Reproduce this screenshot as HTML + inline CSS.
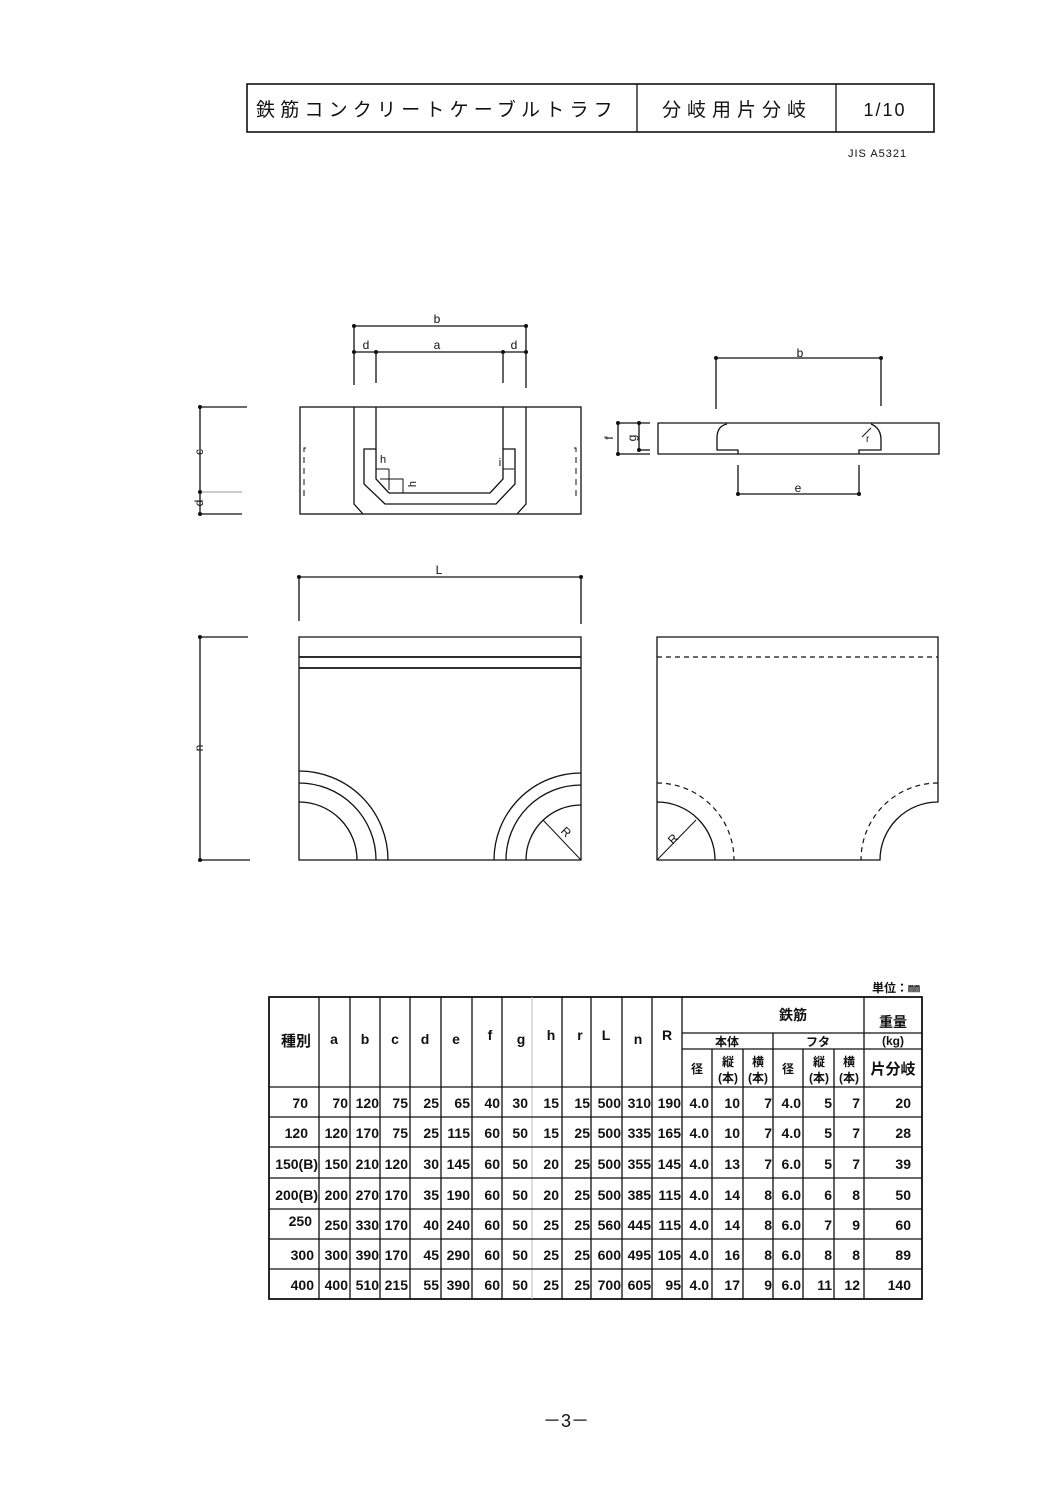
<!DOCTYPE html>
<html><head><meta charset="utf-8"><style>
html,body{margin:0;padding:0;background:#fff}
svg{display:block}
text{font-family:"Liberation Sans","Noto Sans CJK JP",sans-serif;fill:#111}
.t{font-size:14px;font-weight:bold}
</style></head><body>
<svg width="1058" height="1497" viewBox="0 0 1058 1497" xmlns="http://www.w3.org/2000/svg">
<g stroke="#111" fill="none" stroke-width="1.3">
<rect x="247" y="84" width="687" height="48" stroke-width="1.6"/>
<line x1="637" y1="84" x2="637" y2="132"/>
<line x1="836" y1="84" x2="836" y2="132"/>

<rect x="300" y="407" width="281" height="107"/>
<path d="M354 407 L354 504 L363 514 M526 407 L526 504 L517 514"/>
<path d="M376 407 L376 449 L364 449 L364 484 L385 504 L496 504 L515 484 L515 449 L503 449 L503 407"/>
<path d="M376 449 L376 479 L389 493 L490 493 L503 479 L503 449"/>
<path d="M376 469 L389 469 M389 469 L389 490 M380 479 L403 479 L403 493" stroke-width="1"/>
<path d="M503 469 L514 469" stroke-width="1"/>
<path d="M306 448 L304 448 L304 497 L306 497 M574 448 L576 448 L576 497 L574 497" stroke-dasharray="6,5" stroke-width="1"/>
<line x1="200" y1="407" x2="200" y2="514"/>
<line x1="200" y1="407" x2="247" y2="407"/>
<line x1="200" y1="514" x2="242" y2="514"/>
<line x1="200" y1="492" x2="242" y2="492" stroke="#999" stroke-width="1"/>
<line x1="354" y1="326" x2="526" y2="326"/>
<line x1="354" y1="352" x2="526" y2="352"/>
<line x1="354" y1="326" x2="354" y2="385"/>
<line x1="526" y1="326" x2="526" y2="388"/>
<line x1="376" y1="352" x2="376" y2="383"/>
<line x1="503" y1="352" x2="503" y2="383"/>

<path d="M658 423 L939 423 L939 454 L658 454 Z"/>
<path d="M727 424 Q717 426 717 438 L717 450 L738 450 L738 454 M871 424 Q881 428 881 440 L881 450 L859 450 L859 454"/>
<path d="M871 428 L862 437" stroke-width="1"/>
<line x1="716" y1="358" x2="881" y2="358"/>
<line x1="716" y1="358" x2="716" y2="409"/>
<line x1="881" y1="358" x2="881" y2="406"/>
<line x1="738" y1="494" x2="859" y2="494"/>
<line x1="738" y1="465" x2="738" y2="494"/>
<line x1="859" y1="465" x2="859" y2="494"/>
<line x1="618" y1="423" x2="618" y2="454"/>
<line x1="639" y1="423" x2="639" y2="450"/>
<line x1="618" y1="423" x2="650" y2="423"/>
<line x1="618" y1="454" x2="650" y2="454"/>
<line x1="639" y1="450" x2="650" y2="450"/>

<line x1="299" y1="577" x2="581" y2="577"/>
<line x1="299" y1="577" x2="299" y2="621"/>
<line x1="581" y1="577" x2="581" y2="624"/>
<path d="M299 637 L581 637 L581 860 L299 860 Z"/>
<line x1="299" y1="657" x2="581" y2="657" stroke-width="1.8"/>
<line x1="299" y1="668" x2="581" y2="668" stroke-width="1.8"/>
<path d="M299 802 A58 58 0 0 1 357 860 M299 783 A77 77 0 0 1 376 860 M299 771 A89 89 0 0 1 388 860"/>
<path d="M581 805 A55 55 0 0 0 526 860 M581 785 A75 75 0 0 0 506 860 M581 773 A87 87 0 0 0 494 860"/>
<line x1="543" y1="820" x2="581" y2="860" stroke-width="1"/>
<line x1="200" y1="637" x2="200" y2="860"/>
<line x1="200" y1="637" x2="248" y2="637"/>
<line x1="200" y1="860" x2="250" y2="860"/>

<path d="M657 637 L938 637 L938 802 A58 58 0 0 0 880 860 L657 860 Z"/>
<path d="M657 802 A58 58 0 0 1 715 860"/>
<line x1="657" y1="860" x2="696" y2="820" stroke-width="1"/>
<g stroke-dasharray="5,4" stroke-width="1.2">
<line x1="657" y1="657" x2="938" y2="657"/>
<path d="M657 783 A77 77 0 0 1 734 860"/>
<path d="M938 783 A77 77 0 0 0 861 860"/>
</g>

<rect x="269" y="997" width="653" height="302" stroke-width="1.8"/>
<path d="M319 997V1299M350 997V1299M380 997V1299M410 997V1299M441 997V1299M472 997V1299M502 997V1299M562 997V1299M591 997V1299M622 997V1299M652 997V1299M682 997V1299M864 997V1299"/>
<path d="M532 997V1299" stroke="#bbb" stroke-width="1"/>
<path d="M773 1033V1299M712 1049V1299M803 1049V1299M834 1049V1299M743 1049V1299"/>
<path d="M682 1033H922M682 1049H922"/>
<path d="M269 1087H922M269 1117H922M269 1147H922M269 1178H922M269 1209H922M269 1239H922M269 1269H922"/>
</g>
<g fill="#111">
<circle cx="354" cy="326" r="2"/><circle cx="526" cy="326" r="2"/>
<circle cx="354" cy="352" r="2"/><circle cx="376" cy="352" r="2"/><circle cx="503" cy="352" r="2"/><circle cx="526" cy="352" r="2"/>
<circle cx="200" cy="407" r="2"/><circle cx="200" cy="514" r="2"/><circle cx="200" cy="492" r="2"/>
<circle cx="716" cy="358" r="2"/><circle cx="881" cy="358" r="2"/>
<circle cx="738" cy="494" r="2"/><circle cx="859" cy="494" r="2"/>
<circle cx="618" cy="423" r="2"/><circle cx="618" cy="454" r="2"/><circle cx="639" cy="423" r="2"/><circle cx="639" cy="450" r="2"/>
<circle cx="299" cy="577" r="2"/><circle cx="581" cy="577" r="2"/>
<circle cx="200" cy="637" r="2"/><circle cx="200" cy="860" r="2"/>
</g>

<text x="256" y="116" font-size="19" letter-spacing="5.2">鉄筋コンクリートケーブルトラフ</text>
<text x="662" y="116" font-size="19" letter-spacing="6">分岐用片分岐</text>
<text x="885" y="116" font-size="18" text-anchor="middle" letter-spacing="2">1/10</text>
<text x="848" y="157" font-size="11" letter-spacing="1">JIS  A5321</text>

<g font-size="12">
<text x="437" y="323" text-anchor="middle">b</text>
<text x="366" y="349" text-anchor="middle">d</text>
<text x="437" y="349" text-anchor="middle">a</text>
<text x="514" y="349" text-anchor="middle">d</text>
<text x="199" y="456" text-anchor="middle" transform="rotate(-90 199 452)">c</text>
<text x="199" y="507" text-anchor="middle" transform="rotate(-90 199 503)">d</text>
<text x="383" y="463" text-anchor="middle" font-size="11">h</text>
<text x="413" y="487" text-anchor="middle" font-size="11" transform="rotate(-90 413 484)">h</text>
<text x="500" y="466" text-anchor="middle" font-size="11">i</text>
<text x="800" y="357" text-anchor="middle">b</text>
<text x="798" y="492" text-anchor="middle">e</text>
<text x="609" y="442" text-anchor="middle" transform="rotate(-90 609 438)">f</text>
<text x="632" y="442" text-anchor="middle" transform="rotate(-90 632 438)">g</text>
<text x="866" y="442" font-size="10">r</text>
<text x="439" y="574" text-anchor="middle">L</text>
<text x="199" y="752" text-anchor="middle" transform="rotate(-90 199 748)">n</text>
<text x="566" y="836" text-anchor="middle" transform="rotate(45 566 832)">R</text>
<text x="673" y="843" text-anchor="middle" transform="rotate(-45 673 839)">R</text>
</g>

<text x="896" y="992" font-size="12" font-weight="bold" text-anchor="middle">単位：㎜</text>
<g class="t" text-anchor="middle">
<text x="296" y="1046" font-size="15">種別</text>
<text x="334" y="1044">a</text><text x="365" y="1044">b</text><text x="395" y="1044">c</text><text x="425" y="1044">d</text><text x="456" y="1044">e</text><text x="490" y="1040">f</text><text x="521" y="1044">g</text><text x="551" y="1040">h</text><text x="580" y="1040">r</text><text x="606" y="1040">L</text><text x="638" y="1044">n</text><text x="667" y="1040">R</text>
<text x="793" y="1020">鉄筋</text>
<text x="893" y="1027">重量</text>
<text x="893" y="1045" font-size="12">(kg)</text>
<text x="727" y="1046" font-size="12">本体</text>
<text x="818" y="1046" font-size="12">フタ</text>
<text x="697" y="1073" font-size="12">径</text>
<text x="728" y="1066" font-size="12">縦</text><text x="728" y="1082" font-size="12">(本)</text>
<text x="758" y="1066" font-size="12">横</text><text x="758" y="1082" font-size="12">(本)</text>
<text x="788" y="1073" font-size="12">径</text>
<text x="819" y="1066" font-size="12">縦</text><text x="819" y="1082" font-size="12">(本)</text>
<text x="849" y="1066" font-size="12">横</text><text x="849" y="1082" font-size="12">(本)</text>
<text x="893" y="1074" font-size="15">片分岐</text>
</g>
<g class="t" text-anchor="end" font-size="14">
<g transform="translate(0,1108)">
<text x="308">70</text><text x="348">70</text><text x="379">120</text><text x="408">75</text><text x="439">25</text><text x="470">65</text><text x="500">40</text><text x="528">30</text><text x="559">15</text><text x="590">15</text><text x="621">500</text><text x="651">310</text><text x="681">190</text><text x="709">4.0</text><text x="740">10</text><text x="772">7</text><text x="801">4.0</text><text x="832">5</text><text x="860">7</text><text x="911">20</text>
</g>
<g transform="translate(0,1138)">
<text x="308">120</text><text x="348">120</text><text x="379">170</text><text x="408">75</text><text x="439">25</text><text x="470">115</text><text x="500">60</text><text x="528">50</text><text x="559">15</text><text x="590">25</text><text x="621">500</text><text x="651">335</text><text x="681">165</text><text x="709">4.0</text><text x="740">10</text><text x="772">7</text><text x="801">4.0</text><text x="832">5</text><text x="860">7</text><text x="911">28</text>
</g>
<g transform="translate(0,1169)">
<text x="318">150(B)</text><text x="348">150</text><text x="379">210</text><text x="408">120</text><text x="439">30</text><text x="470">145</text><text x="500">60</text><text x="528">50</text><text x="559">20</text><text x="590">25</text><text x="621">500</text><text x="651">355</text><text x="681">145</text><text x="709">4.0</text><text x="740">13</text><text x="772">7</text><text x="801">6.0</text><text x="832">5</text><text x="860">7</text><text x="911">39</text>
</g>
<g transform="translate(0,1200)">
<text x="318">200(B)</text><text x="348">200</text><text x="379">270</text><text x="408">170</text><text x="439">35</text><text x="470">190</text><text x="500">60</text><text x="528">50</text><text x="559">20</text><text x="590">25</text><text x="621">500</text><text x="651">385</text><text x="681">115</text><text x="709">4.0</text><text x="740">14</text><text x="772">8</text><text x="801">6.0</text><text x="832">6</text><text x="860">8</text><text x="911">50</text>
</g>
<g transform="translate(0,1230)">
<text x="312" y="-4">250</text><text x="348">250</text><text x="379">330</text><text x="408">170</text><text x="439">40</text><text x="470">240</text><text x="500">60</text><text x="528">50</text><text x="559">25</text><text x="590">25</text><text x="621">560</text><text x="651">445</text><text x="681">115</text><text x="709">4.0</text><text x="740">14</text><text x="772">8</text><text x="801">6.0</text><text x="832">7</text><text x="860">9</text><text x="911">60</text>
</g>
<g transform="translate(0,1260)">
<text x="314">300</text><text x="348">300</text><text x="379">390</text><text x="408">170</text><text x="439">45</text><text x="470">290</text><text x="500">60</text><text x="528">50</text><text x="559">25</text><text x="590">25</text><text x="621">600</text><text x="651">495</text><text x="681">105</text><text x="709">4.0</text><text x="740">16</text><text x="772">8</text><text x="801">6.0</text><text x="832">8</text><text x="860">8</text><text x="911">89</text>
</g>
<g transform="translate(0,1290)">
<text x="314">400</text><text x="348">400</text><text x="379">510</text><text x="408">215</text><text x="439">55</text><text x="470">390</text><text x="500">60</text><text x="528">50</text><text x="559">25</text><text x="590">25</text><text x="621">700</text><text x="651">605</text><text x="681">95</text><text x="709">4.0</text><text x="740">17</text><text x="772">9</text><text x="801">6.0</text><text x="832">11</text><text x="860">12</text><text x="911">140</text>
</g>
</g>
<text x="566" y="1427" font-size="18" text-anchor="middle">－3－</text>
</svg>
</body></html>
